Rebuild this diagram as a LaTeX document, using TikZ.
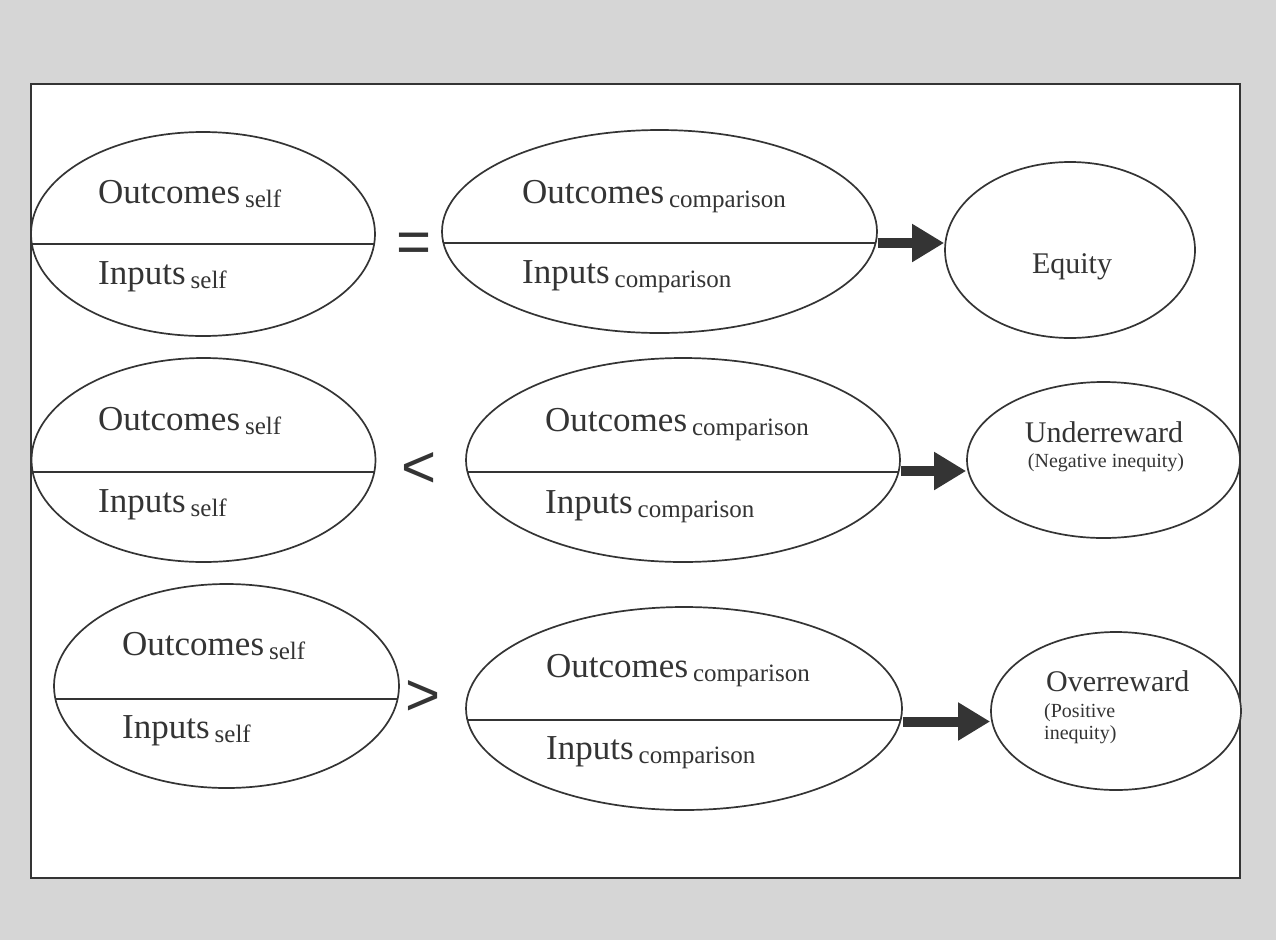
\documentclass[tikz,border=0pt]{standalone}
\usepackage{fontspec}
\setmainfont{Liberation Serif}
\newfontfamily\relfont{Liberation Sans}
\usetikzlibrary{shapes.geometric,arrows.meta}

\definecolor{ink}{RGB}{52,52,52}
\definecolor{paper}{RGB}{214,214,214}

% small lowered tag after a term, e.g. Outcomes_self
\newcommand{\lowtag}[1]{\hspace{5pt}{\fontsize{25}{30}\selectfont\raisebox{-4pt}{#1}}}

\tikzset{
  oval/.style={ellipse, draw=ink, line width=1.7pt, fill=white, inner sep=0pt},
  split at/.style={path picture={%
      \draw[ink, line width=1.6pt]
        ([yshift=-#1]path picture bounding box.west) --
        ([yshift=-#1]path picture bounding box.east);}},
  term/.style={anchor=base west, inner sep=0pt, text=ink,
               font=\fontsize{35}{42}\selectfont},
  result/.style={anchor=base, inner sep=0pt, text=ink,
                 font=\fontsize{30}{36}\selectfont},
  note/.style={inner sep=0pt, text=ink, font=\fontsize{20}{22}\selectfont},
  relation/.style={anchor=base, inner sep=0pt, text=ink,
                   font=\fontsize{60}{60}\relfont},
  bigarrow/.style={draw=ink, line width=10pt,
                   -{Triangle[length=32pt,width=36pt]}},
}

\begin{document}
\begin{tikzpicture}[x=1pt,y=-1pt]
  \useasboundingbox (0,0) rectangle (1276,940);
  \fill[paper] (0,0) rectangle (1276,940);
  \draw[ink, line width=1.6pt, fill=white] (31,84) rectangle (1240,878);

  % ---- row 1: equal ratios ----
  \node[oval, split at=10pt, minimum width=344pt, minimum height=204pt] (L1) at (203,234) {};
  \node[term] (L1o) at (98,203) {Outcomes\lowtag{self}};
  \node[term] (L1i) at (98,284) {Inputs\lowtag{self}};
  \node[relation] (R1) at (414,262) {=};
  \node[oval, split at=11.5pt, minimum width=435pt, minimum height=203pt] (M1) at (659.5,231.5) {};
  \node[term] (M1o) at (522,203) {Outcomes\lowtag{comparison}};
  \node[term] (M1i) at (522,283) {Inputs\lowtag{comparison}};
  \node[oval, minimum width=250pt, minimum height=176pt] (E1) at (1070,250) {};
  \node[result] (E1t) at (1072,273) {Equity};
  \draw[bigarrow] ([yshift=-11.5pt]M1.east) -- ([yshift=-11.5pt]M1.east -| E1.west);

  % ---- row 2: own ratio smaller ----
  \node[oval, split at=12pt, minimum width=344pt, minimum height=204pt] (L2) at (203.5,460) {};
  \node[term] (L2o) at (98,430) {Outcomes\lowtag{self}};
  \node[term] (L2i) at (98,512) {Inputs\lowtag{self}};
  \node[relation] (R2) at (419,487) {<};
  \node[oval, split at=12pt, minimum width=434pt, minimum height=204pt] (M2) at (683,460) {};
  \node[term] (M2o) at (545,431) {Outcomes\lowtag{comparison}};
  \node[term] (M2i) at (545,513) {Inputs\lowtag{comparison}};
  \node[oval, minimum width=273pt, minimum height=156pt] (U2) at (1103.5,460) {};
  \node[result] (U2t) at (1104,442) {Underreward};
  \node[note, anchor=base] (U2n) at (1106,467) {(Negative inequity)};
  \draw[bigarrow] ([yshift=-11pt]M2.east) -- ([yshift=-11pt]M2.east -| U2.west);

  % ---- row 3: own ratio larger ----
  \node[oval, split at=13pt, minimum width=345pt, minimum height=204pt] (L3) at (226.5,686) {};
  \node[term] (L3o) at (122,655) {Outcomes\lowtag{self}};
  \node[term] (L3i) at (122,738) {Inputs\lowtag{self}};
  \node[relation] (R3) at (423.5,715) {>};
  \node[oval, split at=11.5pt, minimum width=436pt, minimum height=203pt] (M3) at (684,708.5) {};
  \node[term] (M3o) at (546,677) {Outcomes\lowtag{comparison}};
  \node[term] (M3i) at (546,759) {Inputs\lowtag{comparison}};
  \node[oval, minimum width=250pt, minimum height=158pt] (O3) at (1116,711) {};
  \node[result, anchor=base west] (O3t) at (1046,691) {Overreward};
  \node[note, anchor=base west] (O3a) at (1044,717) {(Positive};
  \node[note, anchor=base west] (O3b) at (1044,739) {inequity)};
  \draw[bigarrow] ([yshift=-13pt]M3.east) -- ([yshift=-13pt]M3.east -| O3.west);
\end{tikzpicture}
\end{document}
